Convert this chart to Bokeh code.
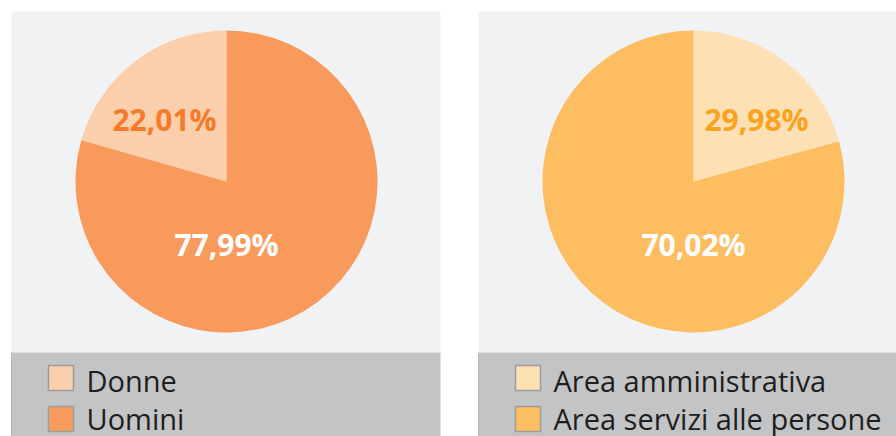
from math import pi
from bokeh.plotting import figure
from bokeh.models import Range1d, ColumnDataSource
from bokeh.core.properties import value
from bokeh.embed import file_html
from bokeh.resources import INLINE

# ---- data ----
left_categories = ["Donne", "Uomini"]
left_labels_pct = [22.01, 77.99]
left_drawn_share = [20.6, 79.4]      # slice sizes as drawn in the picture
left_colors = ["#fccfac", "#f79a5c"]
left_label_colors = ["#f47b2c", "#ffffff"]

right_categories = ["Area amministrativa", "Area servizi alle persone"]
right_labels_pct = [29.98, 70.02]
right_drawn_share = [20.7, 79.3]
right_colors = ["#fde0b4", "#fdbe62"]
right_label_colors = ["#f9a31f", "#ffffff"]

W, H = 896, 436
FONT = "Open Sans"

p = figure(width=W, height=H, output_backend="svg", toolbar_location=None,
           x_range=Range1d(0, W), y_range=Range1d(0, H),
           x_axis_location=None, y_axis_location=None,
           min_border=0, outline_line_color=None)
p.grid.visible = False
p.background_fill_color = "#ffffff"
p.border_fill_color = "#ffffff"

PANEL_W = 429
R = 151
panels = [
    dict(x0=11, cats=left_categories, pct=left_labels_pct, share=left_drawn_share,
         colors=left_colors, lcolors=left_label_colors, clockwise=False),
    dict(x0=478, cats=right_categories, pct=right_labels_pct, share=right_drawn_share,
         colors=right_colors, lcolors=right_label_colors, clockwise=True),
]

for pan in panels:
    x0 = pan["x0"]
    # panel background
    p.quad(left=x0, right=x0 + PANEL_W, bottom=84, top=425,
           fill_color="#f1f2f4", line_color=None)
    # legend band
    p.quad(left=x0, right=x0 + PANEL_W, bottom=0, top=84,
           fill_color="#c3c4c6", line_color=None)
    p.quad(left=x0 - 0.5, right=x0 + 0.5, bottom=0, top=84,
           fill_color="#b6b7b9", line_color=None)

    cx, cy = x0 + 215, 255
    # wedges
    starts, ends = [], []
    acc = 0.0
    total = sum(pan["share"])
    for s in pan["share"]:
        a0 = acc / total * 2 * pi
        acc += s
        a1 = acc / total * 2 * pi
        if pan["clockwise"]:
            starts.append(pi / 2 - a1)
            ends.append(pi / 2 - a0)
        else:
            starts.append(pi / 2 + a0)
            ends.append(pi / 2 + a1)
    src = ColumnDataSource(dict(x=[cx] * len(starts), y=[cy] * len(starts),
                                start=starts, end=ends, color=pan["colors"]))
    p.wedge(x="x", y="y", radius=R, start_angle="start", end_angle="end",
            fill_color="color", line_color=None, source=src)

    # value labels
    small_dx = 63 if pan["clockwise"] else -62
    lx = [cx + small_dx, cx]
    ly = [cy + 62, cy - 63]
    texts = [f"{v:.2f}".replace(".", ",") + "%" for v in pan["pct"]]
    p.text(x=lx, y=ly, text=texts, text_color=pan["lcolors"],
           text_font=value(FONT), text_font_style="bold", text_font_size="30px",
           text_align="center", text_baseline="middle")

    # legend
    n = len(pan["cats"])
    box_top = [71 - 41 * i for i in range(n)]
    bx = x0 + 37
    p.quad(left=[bx] * n, right=[bx + 25] * n, top=box_top,
           bottom=[t - 25 for t in box_top], fill_color=pan["colors"],
           line_color="#9c9c9c", line_width=1.5)
    p.text(x=[bx + 38] * n, y=[t - 15 + 3 * i for i, t in enumerate(box_top)],
           text=pan["cats"],
           text_color="#1e1e1e", text_font=value(FONT), text_font_size="29px",
           text_align="left", text_baseline="alphabetic")

open("out.html", "w").write(file_html(p, INLINE))
